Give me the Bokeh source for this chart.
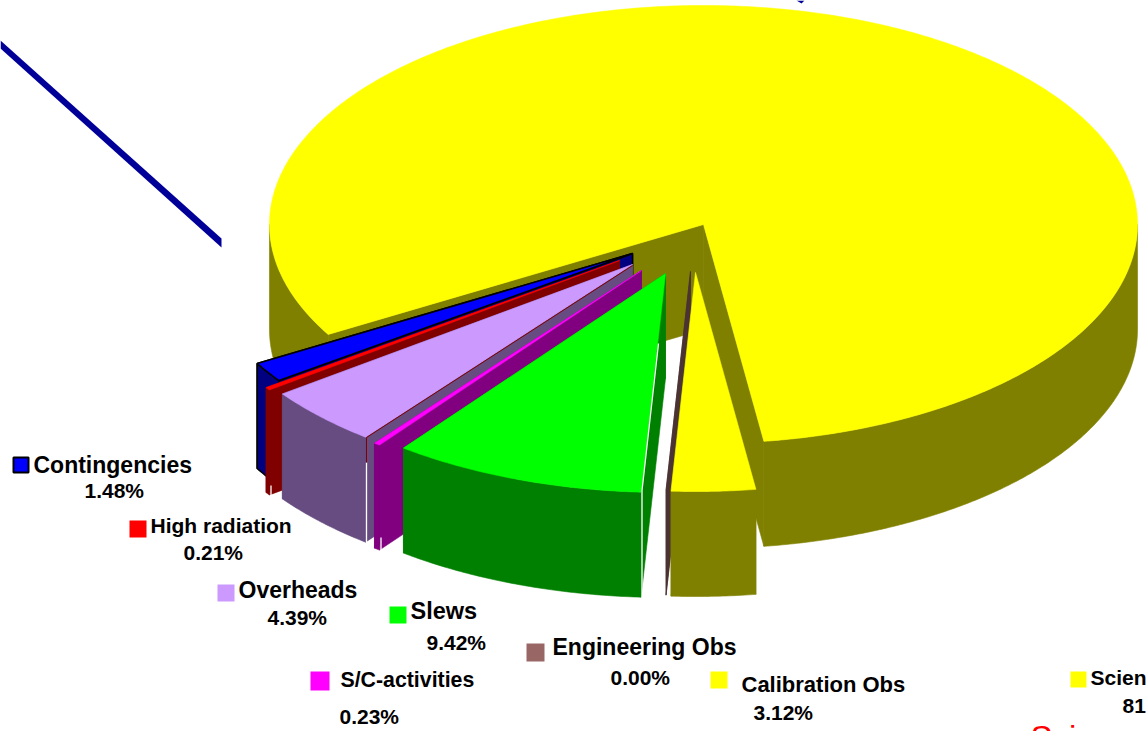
import numpy as np
from bokeh.plotting import figure
from bokeh.models import ColumnDataSource
from bokeh.core.properties import value
from bokeh.embed import file_html
from bokeh.resources import INLINE

# ---- data (percent of time) ----
categories = ["Calibration Obs", "Engineering Obs", "Slews", "S/C-activities",
              "Overheads", "High radiation", "Contingencies", "Science"]
percents = [3.12, 0.00, 9.42, 0.23, 4.39, 0.21, 1.48, 81.15]
percent_labels = ["3.12%", "0.00%", "9.42%", "0.23%", "4.39%", "0.21%", "1.48%", "81.15%"]

# ---- styles ----
top_colors = ["#FFFF00", "#996666", "#00FF00", "#FF00FF", "#CC99FF", "#FF0000", "#0000FF", "#FFFF00"]
side_colors = ["#808000", "#4C3333", "#008000", "#800080", "#664C80", "#800000", "#000080", "#808000"]
legend_colors = top_colors

# ---- explosion of each slice, in pixels ----
offset_x = [-8, -13, -38, -62, -71, -84, -71, 0]
offset_y = [48, 47, 49, 46, 40, 36, 29, 0]
draw_order = [7, 6, 5, 4, 3, 2, 1, 0]

# ---- projection ----
CX, CY, RX, RY, DEPTH = 703.0, 224.0, 434.0, 219.0, 105.0
START_ANGLE = 82.0

# ---- label layout ----
TEXT_SHIFT = 8  # the text layer sits this much lower than the shapes
name_x = [741, 552, 410, 340, 238, 150, 33, 1090]
name_y = [692, 654, 618, 687, 597, 533, 472, 685]
name_size = [22, 23, 23.5, 21.3, 23, 21, 23, 21]
pct_x = [753, 610, 426, 339, 267, 183, 84, 1122]
pct_y = [720, 685, 650, 724, 625, 560, 498, 713]
swatch_x = [710, 526, 389, 310, 217, 129, 13, 1070]
swatch_y = [671, 643, 606, 671, 584, 520, 457, 671]
swatch_w = [17, 18, 17, 19, 17, 17, 15, 16]

p = figure(width=1146, height=731, x_range=(0, 1146), y_range=(731, 0),
           output_backend="svg", toolbar_location=None, min_border=0,
           background_fill_color="white", border_fill_color="white",
           outline_line_color=None, x_axis_type=None, y_axis_type=None)
p.grid.visible = False


def arc(a0, a1, dx, dy, drop=0.0):
    n = max(2, int(abs(a1 - a0) * 2) + 2)
    t = np.radians(np.linspace(a0, a1, n))
    return CX + dx + RX * np.cos(t), CY + dy + RY * np.sin(t) + drop


def face(xs, ys, color, line_color=None, line_width=0.6):
    p.patch(list(xs), list(ys), fill_color=color,
            line_color=line_color or color, line_width=line_width)


# slice angle ranges, accumulated from the values
edges = START_ANGLE + np.concatenate([[0], np.cumsum(percents)]) * 3.6

for i in draw_order:
    a0, a1 = edges[i], edges[i + 1]
    dx, dy = offset_x[i], offset_y[i]
    side = side_colors[i]
    top = top_colors[i]
    outline = "#000000" if categories[i] == "Contingencies" else None
    lw = 1.5 if outline else 0.6
    ax, ay = CX + dx, CY + dy
    # cut faces
    for a in (a1, a0):
        ex, ey = arc(a, a, dx, dy)
        face([ax, ex[0], ex[0], ax], [ay, ey[0], ey[0] + DEPTH, ay + DEPTH], side, outline, lw)
    # outer wall, front half only
    for lo, hi in ((0, 180), (360, 540)):
        w0, w1 = max(a0, lo), min(a1, hi)
        if w1 > w0:
            tx, ty = arc(w0, w1, dx, dy)
            bx, by = arc(w1, w0, dx, dy, DEPTH)
            face(np.r_[tx, bx], np.r_[ty, by], side, outline, lw)
    # top face
    if a1 > a0:
        tx, ty = arc(a0, a1, dx, dy)
        face(np.r_[ax, tx], np.r_[ay, ty], top, outline, lw)

# hairline seams between the faces of the exploded slices
seam_x = [[641.5, 641.5, 658], [366, 366], [380.5, 380.5], [270.5, 270.5]]
seam_y = [[597, 490, 343], [462, 542], [537, 550], [485, 497]]
for sx, sy in zip(seam_x, seam_y):
    p.line(sx, sy, line_color="#FFFFFF", line_width=1.3)
p.line([366, 366, 632], [462, 437, 265], line_color="#800000", line_width=1)

# stray diagonal line of the slide behind the chart
p.patch([0, 221, 221, 0], [40, 238, 247, 48], fill_color="#000099", line_color=None)
p.patch([796, 804, 801], [0, 0, 3], fill_color="#000099", line_color=None)

# legend swatches
for i in range(len(categories)):
    is_cont = categories[i] == "Contingencies"
    x, y, w = swatch_x[i], swatch_y[i], swatch_w[i]
    p.patch([x, x + w, x + w, x], [y, y, y + w, y + w], fill_color=legend_colors[i],
            line_color="#000000" if is_cont else None, line_width=2)

names = ColumnDataSource(dict(x=name_x, y=[v - TEXT_SHIFT for v in name_y], t=categories,
                              s=[f"{v}px" for v in name_size]))
p.text("x", "y", text="t", source=names, text_font=value("Liberation Sans"), text_font_style="bold",
       text_font_size="s", text_color="#000000", text_baseline="alphabetic")
pcts = ColumnDataSource(dict(x=pct_x, y=[v - TEXT_SHIFT for v in pct_y], t=percent_labels))
p.text("x", "y", text="t", source=pcts, text_font=value("Liberation Sans"), text_font_style="bold",
       text_font_size=value("21px"), text_color="#000000", text_baseline="alphabetic")
p.text([1030], [745 - TEXT_SHIFT], text=["Science"], text_font=value("Liberation Sans"),
       text_font_size=value("33px"), text_color="#FF0000", text_baseline="alphabetic")

open("out.html", "w").write(file_html(p, INLINE))
